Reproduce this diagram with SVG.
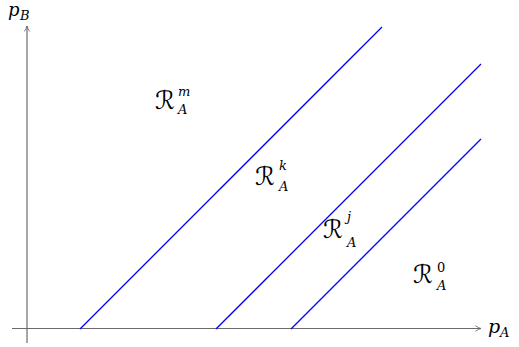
<svg xmlns="http://www.w3.org/2000/svg" width="519" height="347" viewBox="0 0 519 347">
<style>
.ax{stroke:#6b6b6b;stroke-width:1.2;fill:none}
.bl{stroke:#0000ff;stroke-width:1.3;fill:none}
text{font-family:"DejaVu Serif","Liberation Serif",serif;fill:#000}
.cal{font-family:"DejaVu Sans","Noto Sans",sans-serif;font-size:25px}
.it{font-style:italic}
.sub{font-size:13px}
</style>
<defs>
<marker id="arr" viewBox="0 0 10 10" refX="9" refY="5" markerWidth="7" markerHeight="7" orient="auto" markerUnits="userSpaceOnUse">
<path d="M1,1 Q5,4 9,5 Q5,6 1,9" fill="none" stroke="#6b6b6b" stroke-width="1.2"/>
</marker>
</defs>
<g id="connectors">
<line class="ax" x1="12" y1="328.5" x2="481" y2="328.5" marker-end="url(#arr)"/>
<line class="ax" x1="27" y1="343" x2="27" y2="26" marker-end="url(#arr)"/>
<line class="bl" x1="80" y1="329" x2="382" y2="27"/>
<line class="bl" x1="216" y1="329" x2="481" y2="64"/>
<line class="bl" x1="291" y1="329" x2="481" y2="139"/>
</g>
<g id="label-pB"><text class="it" x="8" y="16" font-size="18">p</text><text class="it sub" x="20" y="20">B</text></g>
<g id="label-pA"><text class="it" x="488" y="333" font-size="19">p</text><text class="it sub" x="500" y="337">A</text></g>
<g id="region-m"><text class="cal" x="155" y="109">ℛ</text><text class="it sub" x="178" y="96">m</text><text class="it sub" x="178" y="114">A</text></g>
<g id="region-k"><text class="cal" x="255" y="185">ℛ</text><text class="it sub" x="279" y="170">k</text><text class="it sub" x="279" y="191">A</text></g>
<g id="region-j"><text class="cal" x="323" y="238">ℛ</text><text class="it sub" x="347" y="221">j</text><text class="it sub" x="347" y="247">A</text></g>
<g id="region-0"><text class="cal" x="413" y="283">ℛ</text><text class="sub" x="437" y="272">0</text><text class="it sub" x="437" y="290">A</text></g>
</svg>
